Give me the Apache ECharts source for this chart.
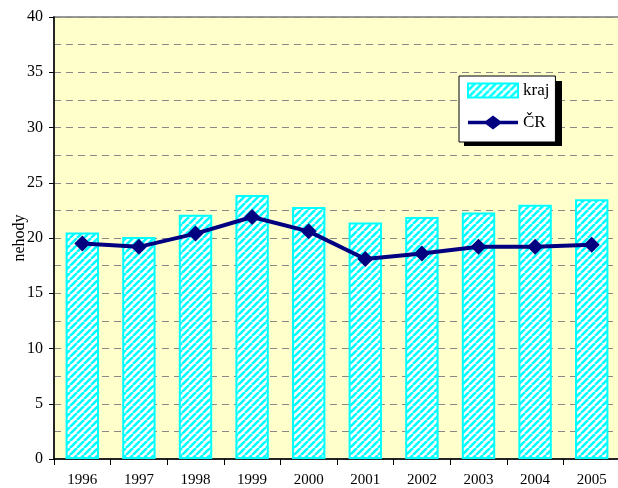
<!DOCTYPE html>
<html>
<head>
<meta charset="utf-8">
<script src="https://cdn.jsdelivr.net/npm/echarts@6/dist/echarts.min.js"></script>
<style>
html,body{margin:0;padding:0;background:#fff;}
#c{width:618px;height:488px;}
</style>
</head>
<body>
<div id="c"></div>
<script>
const categories = ['1996','1997','1998','1999','2000','2001','2002','2003','2004','2005'];
const krajValues = [20.5, 20.1, 22.1, 23.9, 22.8, 21.4, 21.9, 22.3, 23.0, 23.5];
const crValues = [19.5, 19.2, 20.4, 21.9, 20.6, 18.1, 18.6, 19.2, 19.2, 19.4];
const seriesNames = ['kraj', 'ČR'];

function stripePattern() {
  const s = 7;
  const cv = document.createElement('canvas');
  cv.width = s; cv.height = s;
  const ctx = cv.getContext('2d');
  ctx.fillStyle = '#ffffff';
  ctx.fillRect(0, 0, s, s);
  ctx.strokeStyle = '#00ffff';
  ctx.lineWidth = 2.6;
  ctx.beginPath();
  for (let k = -1; k <= 1; k++) {
    ctx.moveTo(k * s, s);
    ctx.lineTo(k * s + s, 0);
  }
  ctx.stroke();
  return { image: cv, repeat: 'repeat' };
}
const pat = stripePattern();
const serif = '"Liberation Serif", "Times New Roman", serif';

const chart = echarts.init(document.getElementById('c'), null, { renderer: 'canvas' });
chart.setOption({
  animation: false,
  backgroundColor: '#ffffff',
  grid: {
    left: 54, top: 17, right: -2, bottom: 29,
    outerBoundsMode: 'none',
    containLabel: false,
    show: true, backgroundColor: '#ffffcc', borderColor: '#999999', borderWidth: 2
  },
  graphic: [{
    type: 'rect', z: 3, silent: true,
    shape: { x: 464, y: 81, width: 98, height: 65 },
    style: { fill: '#000000' }
  }],
  legend: {
    orient: 'vertical',
    left: 459, top: 76,
    z: 5,
    padding: [6, 6, 11, 8],
    backgroundColor: '#ffffff',
    borderColor: '#000000', borderWidth: 1,
    itemWidth: 50, itemHeight: 14, itemGap: 15,
    textStyle: { fontFamily: serif, fontSize: 17, color: '#000' },
    data: [
      { name: seriesNames[0], icon: 'rect' },
      {
        name: seriesNames[1],
        icon: 'path://M0,5.3 L18,5.3 L25,0 L32,5.3 L50,5.3 L50,8.7 L32,8.7 L25,14 L18,8.7 L0,8.7 Z',
        itemStyle: { color: '#000080', borderWidth: 0 }
      }
    ]
  },
  xAxis: {
    type: 'category',
    data: categories,
    axisLine: { lineStyle: { color: '#000', width: 1.5 } },
    axisTick: { show: true, length: 6, lineStyle: { color: '#000' } },
    axisLabel: { fontFamily: serif, fontSize: 15, color: '#000', margin: 14 },
    splitLine: { show: false }
  },
  yAxis: {
    type: 'value',
    min: 0, max: 40, interval: 5,
    name: 'nehody',
    nameLocation: 'middle',
    nameGap: 26,
    nameMoveOverlap: false,
    nameRotate: 90,
    nameTextStyle: { fontFamily: serif, fontSize: 16, color: '#000' },
    axisLine: { show: true, lineStyle: { color: '#000', width: 1.5 } },
    axisTick: { show: true, length: 5, lineStyle: { color: '#000' } },
    axisLabel: { fontFamily: serif, fontSize: 16, color: '#000', margin: 11 },
    splitLine: { show: true, lineStyle: { color: '#888', type: [7, 5], width: 1 } },
    minorTick: { show: false, splitNumber: 2 },
    minorSplitLine: { show: true, lineStyle: { color: '#888', type: [7, 5], width: 1 } }
  },
  series: [
    {
      name: seriesNames[0],
      type: 'bar',
      data: krajValues,
      barCategoryGap: '41%',
      itemStyle: { color: pat, borderColor: '#00ffff', borderWidth: 2 }
    },
    {
      name: seriesNames[1],
      type: 'line',
      data: crValues,
      symbol: 'diamond',
      symbolSize: 16,
      lineStyle: { color: '#000080', width: 4 },
      itemStyle: { color: '#000080' }
    }
  ]
});
</script>
</body>
</html>
